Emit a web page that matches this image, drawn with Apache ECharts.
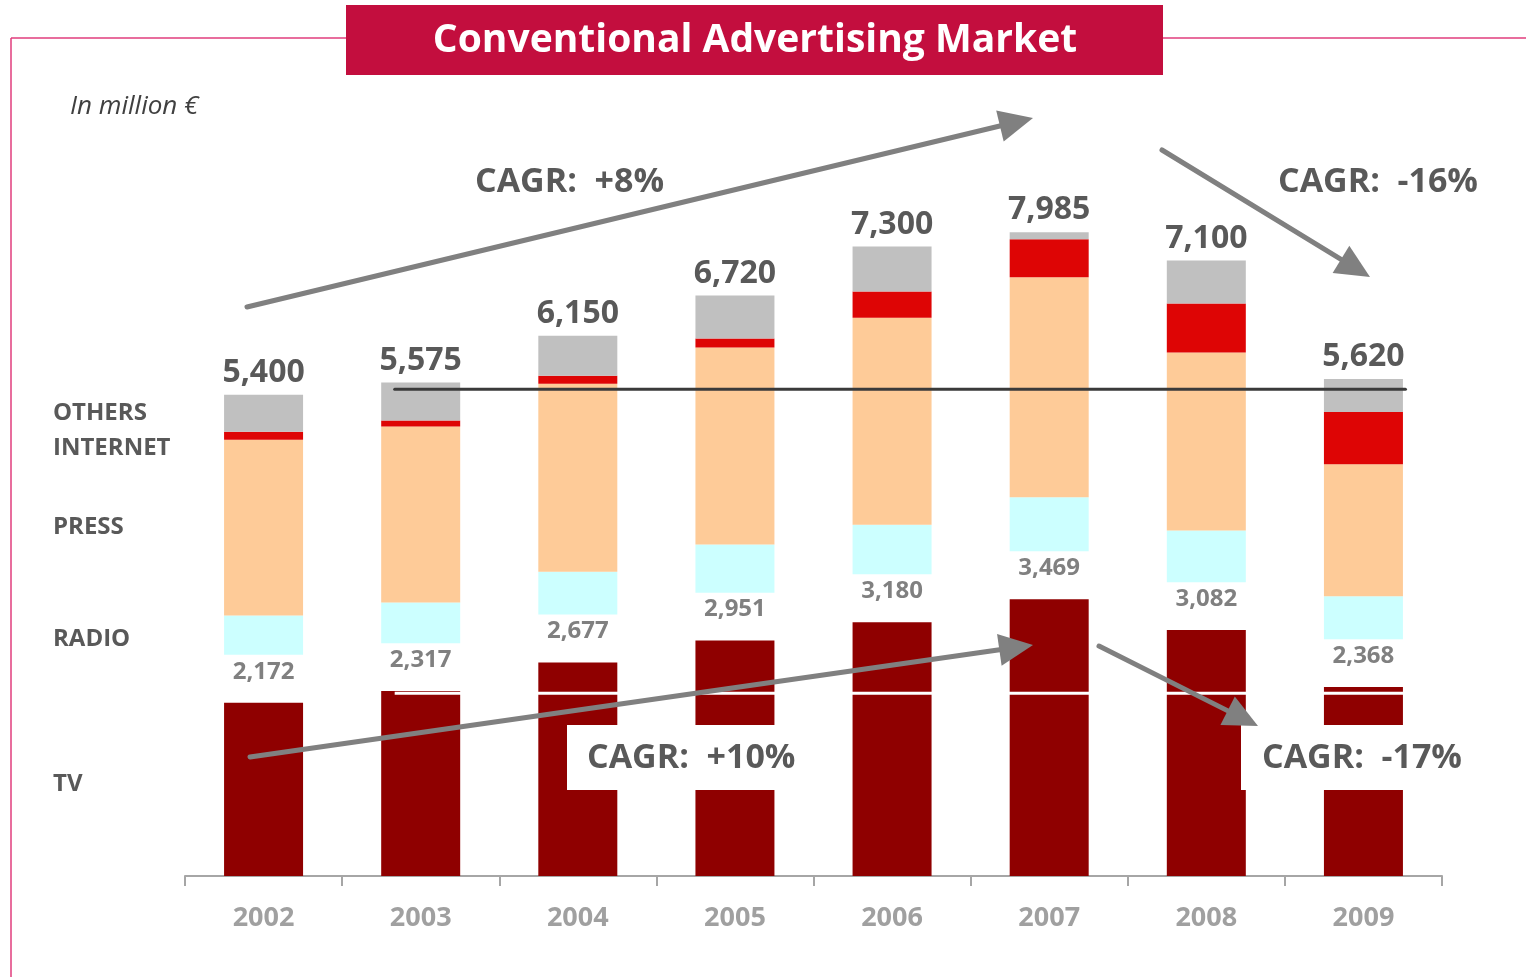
<!DOCTYPE html>
<html><head><meta charset="utf-8">
<script src="https://cdn.jsdelivr.net/npm/echarts@6/dist/echarts.min.js"></script>
<style>html,body{margin:0;padding:0;background:#fff}#c{width:1526px;height:977px}</style>
</head><body><div id="c"></div>
<script>
// ---------------- DATA ----------------
const years    = ['2002','2003','2004','2005','2006','2007','2008','2009'];
const tv       = [2172, 2317, 2677, 2951, 3180, 3469, 3082, 2368];
const radio    = [493, 510, 535, 602, 623, 677, 648, 539];
const press    = [2202, 2206, 2356, 2469, 2594, 2757, 2231, 1654];
const internet = [100, 75, 100, 113, 326, 476, 614, 652];
const others   = [464, 476, 501, 539, 564, 88, 539, 414];
const totals   = [5400, 5575, 6150, 6720, 7300, 7985, 7100, 5620];
const segmentNames = ['TV', 'RADIO', 'PRESS', 'INTERNET', 'OTHERS'];
const cagrLabels = ['CAGR:  +8%', 'CAGR:  -16%', 'CAGR:  +10%', 'CAGR:  -17%'];
const refLineTotal = 6100;   // dark reference line (2003 total level)
const refLineTv = 2290;      // white reference line (2003 TV level)

// ---------------- STYLE ----------------
const FONT = 'Open Sans';
const GAP = 600; // blank spacer between TV and the rest, holds the TV label
const C = { tv:'#8f0000', radio:'#ccffff', press:'#fecb98', internet:'#de0505', others:'#c0c0c0' };

const chart = echarts.init(document.getElementById('c'));

function bar(name, data, color, label) {
  return { name, type:'bar', stack:'s', data, barWidth:79,
    itemStyle:{ color }, label: label || { show:false }, silent:true, z:2 };
}

const option = {
  animation:false,
  backgroundColor:'#fff',
  grid:{ left:185, right:84, top:78, bottom:101 },
  xAxis:{ type:'category', data:years,
    axisLine:{ show:true, lineStyle:{ color:'#a6a6a6', width:2 } },
    axisTick:{ show:true, alignWithLabel:false, length:10, lineStyle:{ color:'#a6a6a6', width:2 } },
    axisLabel:{ color:'#a0a0a0', fontSize:27, fontWeight:'bold', margin:29, fontFamily:FONT } },
  yAxis:{ type:'value', min:0, max:10000, show:false },
  series:[
    bar('TV', tv, C.tv),
    bar('gap', years.map(()=>GAP), 'rgba(0,0,0,0)', { show:true, position:'insideTop', distance:5,
      formatter:p=>tv[p.dataIndex].toLocaleString('en-US'), color:'#808080', fontSize:24,
      fontWeight:'bold', fontFamily:FONT }),
    bar('RADIO', radio, C.radio),
    bar('PRESS', press, C.press),
    bar('INTERNET', internet, C.internet),
    bar('OTHERS', others, C.others, { show:true, position:'top', distance:6,
      formatter:p=>totals[p.dataIndex].toLocaleString('en-US'), color:'#595959', fontSize:32,
      fontWeight:'bold', fontFamily:FONT })
  ]
};
chart.setOption(option);

// ---------------- ANNOTATIONS ----------------
const px = (i, v) => chart.convertToPixel({ gridIndex:0 }, [i, v]);
const g = [];

// frame + title
g.push({ type:'line', shape:{x1:11,y1:38,x2:1526,y2:38}, style:{stroke:'#e03c7c',lineWidth:1.5}, z:1 });
g.push({ type:'line', shape:{x1:11,y1:38,x2:11,y2:977}, style:{stroke:'#e03c7c',lineWidth:1.5}, z:1 });
g.push({ type:'rect', shape:{x:346,y:5,width:817,height:70}, style:{fill:'#c30e3e'}, z:5 });
g.push({ type:'text', x:755, y:41, style:{ text:'Conventional Advertising Market', fill:'#fff',
  font:'bold 39px "'+FONT+'"', textAlign:'center', textVerticalAlign:'middle' }, z:6 });
g.push({ type:'text', x:70, y:107, style:{ text:'In million €', fill:'#404040',
  font:'italic 26px "'+FONT+'"', textAlign:'left', textVerticalAlign:'middle' }, z:6 });

// left segment labels, centred on the 2002 segments
const segs2002 = [tv[0], radio[0], press[0], internet[0], others[0]];
let base = 0;
segs2002.forEach((v, k) => {
  if (k === 1) base += GAP;
  const mid = base + v / 2;
  base += v;
  let y = px(0, mid)[1];
  if (segmentNames[k] === 'INTERNET') y += 12;
  if (segmentNames[k] === 'TV') y -= 5;
  if (segmentNames[k] === 'RADIO') y += 4;
  g.push({ type:'text', x:53, y, style:{ text:segmentNames[k], fill:'#595959',
    font:'bold 24px "'+FONT+'"', textAlign:'left', textVerticalAlign:'middle' }, z:6 });
});

// reference lines
const c1 = px(1, 0)[0], c7 = px(7, 0)[0];
const yT = px(0, refLineTotal)[1], yV = px(0, refLineTv)[1];
g.push({ type:'line', shape:{x1:c1-26,y1:yT,x2:c7+42,y2:yT}, style:{stroke:'#3a3a3a',lineWidth:3,lineCap:'round'}, z:7 });
g.push({ type:'line', shape:{x1:c1-26,y1:yV,x2:c7+40,y2:yV}, style:{stroke:'#ffffff',lineWidth:3}, z:7 });

// white boxes behind the lower CAGR labels
g.push({ type:'rect', shape:{x:567,y:725,width:215,height:65}, style:{fill:'#fff'}, z:8 });
g.push({ type:'rect', shape:{x:1241,y:725,width:240,height:65}, style:{fill:'#fff'}, z:8 });

// arrows
function arrow(x1, y1, x2, y2) {
  const dx = x2 - x1, dy = y2 - y1, L = Math.hypot(dx, dy);
  const ux = dx / L, uy = dy / L, nx = -uy, ny = ux;
  const HL = 34, HW = 16;
  const bx = x2 - ux * HL, by = y2 - uy * HL;
  g.push({ type:'line', shape:{x1, y1, x2:bx+ux*2, y2:by+uy*2},
    style:{stroke:'#808080', lineWidth:5, lineCap:'round'}, z:9 });
  g.push({ type:'polygon', shape:{ points:[[x2,y2],[bx+nx*HW,by+ny*HW],[bx-nx*HW,by-ny*HW]] },
    style:{fill:'#808080'}, z:9 });
}
arrow(247, 307, 1033, 118);
arrow(1162, 150, 1370, 277);
arrow(250, 757, 1033, 645);
arrow(1099, 646, 1258, 726);

// CAGR labels
const cagrPos = [[475,182],[1278,182],[587,758],[1262,758]];
cagrLabels.forEach((t, i) => {
  g.push({ type:'text', x:cagrPos[i][0], y:cagrPos[i][1], style:{ text:t, fill:'#595959',
    font:'bold 34px "'+FONT+'"', textAlign:'left', textVerticalAlign:'middle' }, z:10 });
});

chart.setOption({ graphic:{ elements:g } });
</script>
</body></html>
